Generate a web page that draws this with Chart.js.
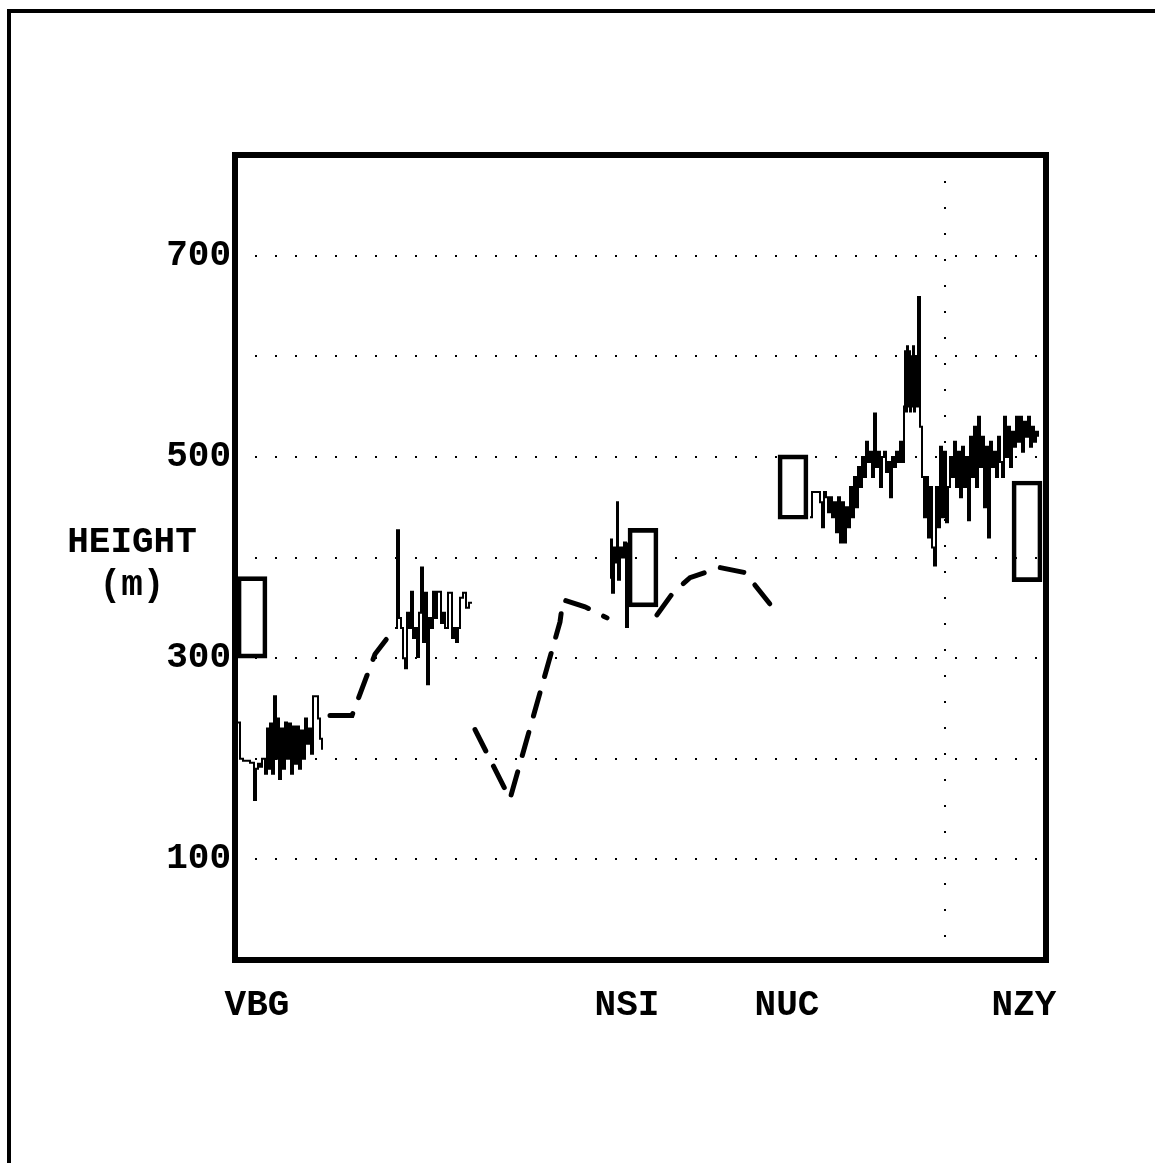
<!DOCTYPE html>
<html>
<head>
<meta charset="utf-8">
<title>Height profile</title>
<script src="https://cdn.jsdelivr.net/npm/chart.js@4.4.1/dist/chart.umd.min.js"></script>
<style>
  html, body { margin: 0; padding: 0; background: #fff; }
  canvas { display: block; }
</style>
</head>
<body>
<canvas id="heightChart" width="1155" height="1163"></canvas>
<script>
// Stations along the section (distance along the path)
const stationNames = ['VBG', 'NSI', 'NUC', 'NZY'];
const stationDist = [22, 392, 552, 789];
const markerDist = 710; // the one dotted vertical line

// Height axis labels
const yTickLabels = [100, 300, 500, 700];

// Boxes at the stations (height range)
const boxDist = [17, 408, 558, 792];
const boxLow = [300, 351, 438, 376];
const boxHigh = [381, 429, 502, 476];

// Observed heights, thin stepped trace (null = no data)
const obsDist = [
    2, 5, 8, 15, 19, 21, 23, 25, 27, 30, 32, 33, 35, 37, 39, 41, 43, 44, 46, 48,
    50, 52, 54, 56, 58, 60, 62, 64, 66, 68, 70, 72, 74, 76, 78, 80, 83, 85, 87,
    90,
    160, 162, 164, 166, 168, 170, 172, 174, 176, 178, 180, 182, 184, 186, 188, 190,
    192, 194, 196, 198, 200, 202, 204, 206, 208, 210, 213, 215, 217, 219, 221, 223,
    225, 228, 231, 234, 237,
    240,
    375, 376, 377, 379, 381, 382, 383, 385, 387, 389, 391, 393,
    395,
    575, 577, 580, 583, 585, 587, 589, 591, 593, 595, 597, 599, 601, 603, 605, 607,
    609, 611, 613, 615, 617, 619, 621, 623, 625, 627, 629, 631, 633, 635, 637, 639,
    641, 643, 645, 647, 649, 651, 653, 655, 657, 659, 661, 663, 665, 667, 669, 670,
    671, 672, 673, 674, 675, 676, 677, 678, 679, 680, 681, 683, 685, 687, 689, 691,
    693, 695, 697, 699, 701, 703, 705, 707, 709, 711, 713, 715, 717, 719, 721, 723,
    725, 727, 729, 731, 733, 735, 737, 739, 741, 743, 745, 747, 749, 751, 753, 755,
    757, 759, 761, 763, 765, 767, 769, 771, 773, 775, 777, 779, 781, 783, 785, 787,
    789, 791, 793, 795, 797, 799, 801, 803
];
const obsHeight = [
    236, 200, 198, 196, 159, 190, 195, 192, 200, 185, 230, 190, 235, 185, 262, 200, 240, 180, 230, 190,
    236, 200, 235, 185, 232, 195, 232, 190, 228, 200, 240, 215, 230, 205, 262, 262, 240, 220, 209,
    null,
    330, 427, 340, 330, 300, 290, 345, 330, 366, 320, 330, 301, 345, 390, 316, 365,
    274, 340, 330, 366, 340, 366, 366, 335, 345, 330, 365, 365, 320, 330, 316, 330,
    360, 365, 350, 355, 355,
    null,
    380, 418, 365, 410, 395, 455, 378, 410, 400, 415, 331, 415,
    null,
    440, 465, 465, 465, 455, 430, 465, 460, 445, 460, 440, 455, 425, 460, 415, 455,
    415, 450, 430, 470, 440, 480, 450, 490, 470, 500, 480, 515, 495, 505, 480, 543,
    490, 505, 470, 500, 505, 485, 495, 460, 500, 490, 505, 495, 515, 495, 550, 605,
    545, 610, 550, 605, 545, 600, 550, 610, 545, 600, 550, 659, 530, 480, 440, 480,
    420, 470, 410, 392, 470, 430, 510, 440, 505, 435, 470, 500, 480, 515, 470, 505,
    460, 510, 470, 500, 437, 520, 480, 530, 470, 540, 490, 520, 450, 510, 420, 515,
    490, 505, 480, 520, 495, 480, 540, 500, 530, 490, 525, 510, 540, 515, 540, 505,
    535, 520, 540, 510, 530, 515, 525, 520
];

// Model heights, thick dashed line (null = break)
const modelDist = [95, 117, 140, 160, 200, 240, 275, 325, 328, 350, 372, 400, 422, 438, 455, 485, 510, 538];
const modelHeight = [243, 243, 304, 330, null, 229, 160, 336, 358, 351, 340, null, 343, 365, 380, 390, 385, 350];

const FONT = '"Liberation Mono", "DejaVu Sans Mono", monospace';

function toPoints(xs, ys) {
    return xs.map((x, i) => ({ x: x, y: ys[i] }));
}

// Frame, plot box and the horizontal axis title
const framePlugin = {
    id: 'frame',
    beforeDraw(chart) {
        const ctx = chart.ctx;
        ctx.save();
        ctx.fillStyle = '#fff';
        ctx.fillRect(0, 0, chart.width, chart.height);
        ctx.strokeStyle = '#000';
        ctx.lineWidth = 4;
        ctx.beginPath();
        ctx.moveTo(9, chart.height);
        ctx.lineTo(9, 11);
        ctx.lineTo(chart.width, 11);
        ctx.stroke();
        ctx.restore();
    },
    afterDatasetsDraw(chart) {
        const ctx = chart.ctx;
        const a = chart.chartArea;
        ctx.save();
        ctx.strokeStyle = '#000';
        ctx.lineWidth = 6;
        ctx.strokeRect(a.left, a.top, a.right - a.left, a.bottom - a.top);
        ctx.fillStyle = '#000';
        ctx.font = 'bold 36px ' + FONT;
        ctx.textAlign = 'center';
        ctx.textBaseline = 'middle';
        ctx.fillText('HEIGHT', a.left - 103, a.top + 388);
        ctx.fillText('(m)', a.left - 103, a.top + 431);
        ctx.restore();
    }
};

new Chart(document.getElementById('heightChart'), {
    type: 'line',
    data: {
        datasets: [
            {
                label: 'Model',
                data: toPoints(modelDist, modelHeight),
                borderColor: '#000',
                borderWidth: 5,
                borderDash: [24, 17],
                borderCapStyle: 'round',
                pointRadius: 0,
                tension: 0,
                spanGaps: false
            },
            {
                label: 'Observed',
                data: toPoints(obsDist, obsHeight),
                borderColor: '#000',
                borderWidth: 2,
                stepped: true,
                pointRadius: 0,
                spanGaps: false
            },
            {
                type: 'bar',
                label: 'Station range',
                data: boxDist.map((x, i) => ({ x: x, y: [boxLow[i], boxHigh[i]] })),
                backgroundColor: 'rgba(255,255,255,0)',
                borderColor: '#000',
                borderWidth: 4,
                borderSkipped: false,
                barThickness: 30,
                grouped: false
            }
        ]
    },
    options: {
        responsive: false,
        animation: false,
        layout: { padding: { top: 155, right: 109, bottom: 0, left: 0 } },
        plugins: {
            legend: { display: false },
            tooltip: { enabled: false }
        },
        scales: {
            x: {
                type: 'linear',
                min: 0,
                max: 811,
                offset: false,
                afterFit: (s) => { s.height = 203; },
                afterBuildTicks: (s) => {
                    s.ticks = stationDist.concat([markerDist]).map(v => ({ value: v }));
                },
                border: { display: false, dash: [2, 24] },
                grid: {
                    offset: false,
                    drawTicks: false,
                    lineWidth: 2,
                    color: (c) => (c.tick && c.tick.value === markerDist) ? '#000' : 'rgba(0,0,0,0)'
                },
                ticks: {
                    autoSkip: false,
                    maxRotation: 0,
                    padding: 24,
                    color: '#000',
                    font: { family: FONT, size: 36, weight: 'bold' },
                    callback: (v) => {
                        const i = stationDist.indexOf(v);
                        return i >= 0 ? stationNames[i] : '';
                    }
                }
            },
            y: {
                min: 0,
                max: 800,
                afterFit: (s) => { s.width = 235; },
                border: { display: false, dash: [2, 18] },
                grid: {
                    drawTicks: false,
                    lineWidth: 2,
                    color: (c) => (c.tick && c.tick.value > 0 && c.tick.value < 800) ? '#000' : 'rgba(0,0,0,0)'
                },
                ticks: {
                    stepSize: 100,
                    padding: 4,
                    color: '#000',
                    font: { family: FONT, size: 36, weight: 'bold' },
                    callback: (v) => yTickLabels.includes(v) ? String(v) : ''
                }
            }
        }
    },
    plugins: [framePlugin]
});
</script>
</body>
</html>
